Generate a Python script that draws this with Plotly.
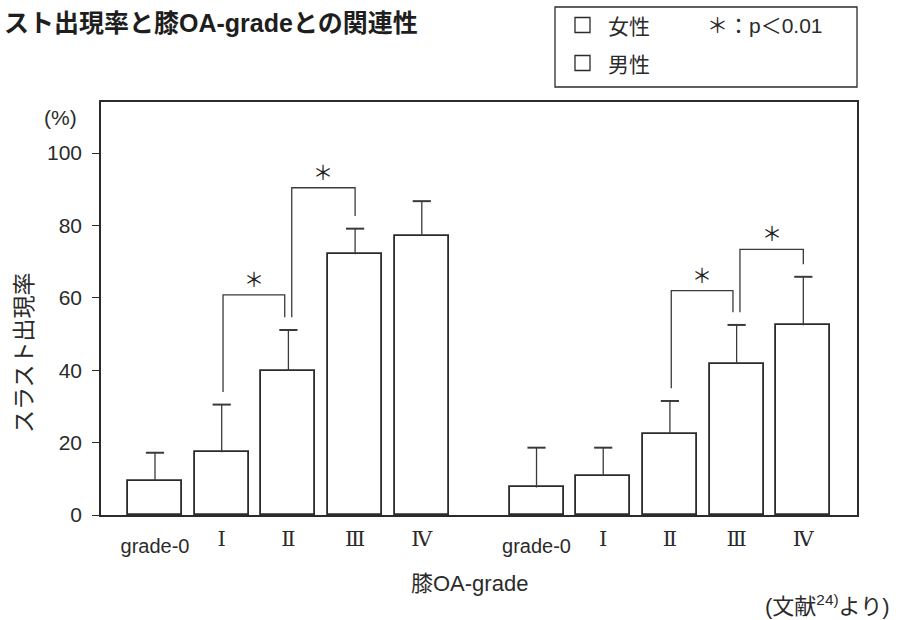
import plotly.graph_objects as go

# ---- data -------------------------------------------------------------
grades = ["grade-0", "Ⅰ", "Ⅱ", "Ⅲ", "Ⅳ"]
female_rate = [9.5, 17.3, 39.8, 72.0, 77.2]
female_err_top = [17.2, 30.5, 51.1, 79.1, 86.7]
male_rate = [7.6, 10.9, 22.5, 41.7, 52.4]
male_err_top = [18.6, 18.6, 31.5, 52.5, 65.8]

# significant pairs: (group, left grade index, right grade index, bracket level %)
sig_pairs = [
    (0, 1, 2, 60.8),
    (0, 2, 3, 90.4),
    (1, 2, 3, 62.0),
    (1, 3, 4, 73.4),
]

y_ticks = [0, 20, 40, 60, 80, 100]

# ---- layout helpers ---------------------------------------------------
W, H = 909, 620
L, R, T, B = 101, 857, 102, 515
GROUP_OFFSET = 5.72
BAR_W = 0.81
UNIT_PX = 66.7
FONT = "Liberation Sans, Noto Sans CJK JP, sans-serif"
CJK = "Noto Sans CJK JP"
NUMERAL_FONT = "DejaVu Serif, Liberation Serif, serif"
INK = "#2b2b2b"
LINE = "#3a3a3a"


def px(x):
    return (x - L) / (R - L)


def py(y):
    return (B - y) / (B - T)


def pos(group, i):
    return group * GROUP_OFFSET + i


fig = go.Figure()

series = [("女性", female_rate, female_err_top), ("男性", male_rate, male_err_top)]
for gi, (name, vals, tops) in enumerate(series):
    xs = [pos(gi, i) for i in range(len(vals))]
    fig.add_trace(go.Bar(
        name=name, x=xs, y=vals, width=BAR_W,
        marker=dict(color="white", line=dict(color=INK, width=1.8)),
        showlegend=False,
    ))
    # upper error bars: stem from bar top to the error value, cap on top
    stem_x, stem_y = [], []
    for x, v, t in zip(xs, vals, tops):
        stem_x += [x, x, None]
        stem_y += [v, t, None]
    fig.add_trace(go.Scatter(
        x=stem_x, y=stem_y, mode="lines", xaxis="x2",
        line=dict(color=LINE, width=1.3), hoverinfo="skip", showlegend=False))
    fig.add_trace(go.Scatter(
        x=xs, y=tops, mode="markers",
        marker=dict(symbol="line-ew", size=13, line=dict(color=LINE, width=2)),
        hoverinfo="skip", showlegend=False))

# significance brackets and asterisks
tops_by_group = [female_err_top, male_err_top]
starts = {(g, a) for g, a, b, lv in sig_pairs}
ends = {(g, b) for g, a, b, lv in sig_pairs}
for g, a, b, level in sig_pairs:
    tops = tops_by_group[g]
    xa = pos(g, a) + (0.05 if (g, a) in ends else 0.02)
    xb = pos(g, b) - (0.055 if (g, b) in starts else 0.0)
    ya = tops[a] + 3.5
    yb = tops[b] + 3.5
    fig.add_shape(type="path",
                  path=f"M {xa},{ya} L {xa},{level} L {xb},{level} L {xb},{yb}",
                  line=dict(color=LINE, width=1.3), xref="x", yref="y")
    fig.add_annotation(x=(xa + xb) / 2, y=level, xref="x", yref="y",
                       text="＊", showarrow=False, yanchor="bottom", yshift=0,
                       font=dict(family=CJK, size=20, color="#222222"))

# legend box drawn by hand
fig.add_shape(type="rect", xref="paper", yref="paper",
              x0=px(555), x1=px(857), y0=py(87), y1=py(7),
              line=dict(color=INK, width=1.3), fillcolor="white")
for (name, _, _), yc in zip(series, [25, 63]):
    fig.add_shape(type="rect", xref="paper", yref="paper",
                  x0=px(575), x1=px(590), y0=py(yc + 7.5), y1=py(yc - 7.5),
                  line=dict(color=INK, width=1.3), fillcolor="white")
    fig.add_annotation(x=px(606), y=py(yc), xref="paper", yref="paper",
                       text=name, showarrow=False, xanchor="left", yanchor="middle",
                       font=dict(family=CJK, size=21, color=INK))
fig.add_annotation(x=px(705), y=py(25), xref="paper", yref="paper",
                   text="＊：p＜0.01", showarrow=False, xanchor="left", yanchor="middle",
                   font=dict(family=FONT, size=21, color=INK))

# title, unit, axis captions, source
fig.add_annotation(x=px(2), y=py(23), xref="paper", yref="paper",
                   text="<b>スト出現率と膝OA-gradeとの関連性</b>", showarrow=False,
                   xanchor="left", yanchor="middle",
                   font=dict(family=FONT, size=25, color="#1e1e1e"))
fig.add_annotation(x=px(60), y=py(117), xref="paper", yref="paper",
                   text="(%)", showarrow=False, xanchor="center", yanchor="middle",
                   font=dict(family=FONT, size=21, color=INK))
fig.add_annotation(x=px(22), y=py(353), xref="paper", yref="paper",
                   text="スラスト出現率", showarrow=False, textangle=-90,
                   xanchor="center", yanchor="middle",
                   font=dict(family=CJK, size=23, color=INK))
fig.add_annotation(x=px(469), y=py(583), xref="paper", yref="paper",
                   text="膝OA-grade", showarrow=False, xanchor="center", yanchor="middle",
                   font=dict(family=FONT, size=22, color=INK))
fig.add_annotation(x=px(891), y=py(605), xref="paper", yref="paper",
                   text="(文献<sup>24)</sup>より)", showarrow=False,
                   xanchor="right", yanchor="middle",
                   font=dict(family=FONT, size=22, color=INK))

x_range = [(L - 155) / UNIT_PX, (R - 155) / UNIT_PX]
grade0_x = [pos(g, 0) for g in range(2)]
numeral_x = [pos(g, i) for g in range(2) for i in range(1, len(grades))]
numeral_t = [gr for _ in range(2) for gr in grades[1:]]

fig.update_layout(
    width=W, height=H,
    margin=dict(l=L, r=W - R, t=T, b=H - B, pad=0),
    paper_bgcolor="white", plot_bgcolor="white",
    font=dict(family=FONT, size=20, color=INK),
    bargap=0,
    xaxis=dict(range=x_range, tickvals=grade0_x, ticktext=[grades[0]] * 2,
               ticks="", showgrid=False, zeroline=False,
               showline=True, linecolor=INK, linewidth=1.6, mirror=True,
               tickfont=dict(family=FONT, size=20, color=INK),
               ticklabelstandoff=12),
    xaxis2=dict(range=x_range, overlaying="x", side="bottom", anchor="y",
                tickvals=numeral_x, ticktext=numeral_t,
                ticks="", showgrid=False, zeroline=False, showline=False,
                tickfont=dict(family=NUMERAL_FONT, size=21, color=INK),
                ticklabelstandoff=9),
    yaxis=dict(range=[0, (B - T) / 3.62], tickvals=y_ticks,
               ticks="outside", ticklen=7, tickwidth=1.3, tickcolor=INK,
               showgrid=False, zeroline=False,
               showline=True, linecolor=INK, linewidth=1.6, mirror=True,
               tickfont=dict(family=FONT, size=21, color=INK),
               ticklabelstandoff=6),
)

fig.write_html("out.html")
